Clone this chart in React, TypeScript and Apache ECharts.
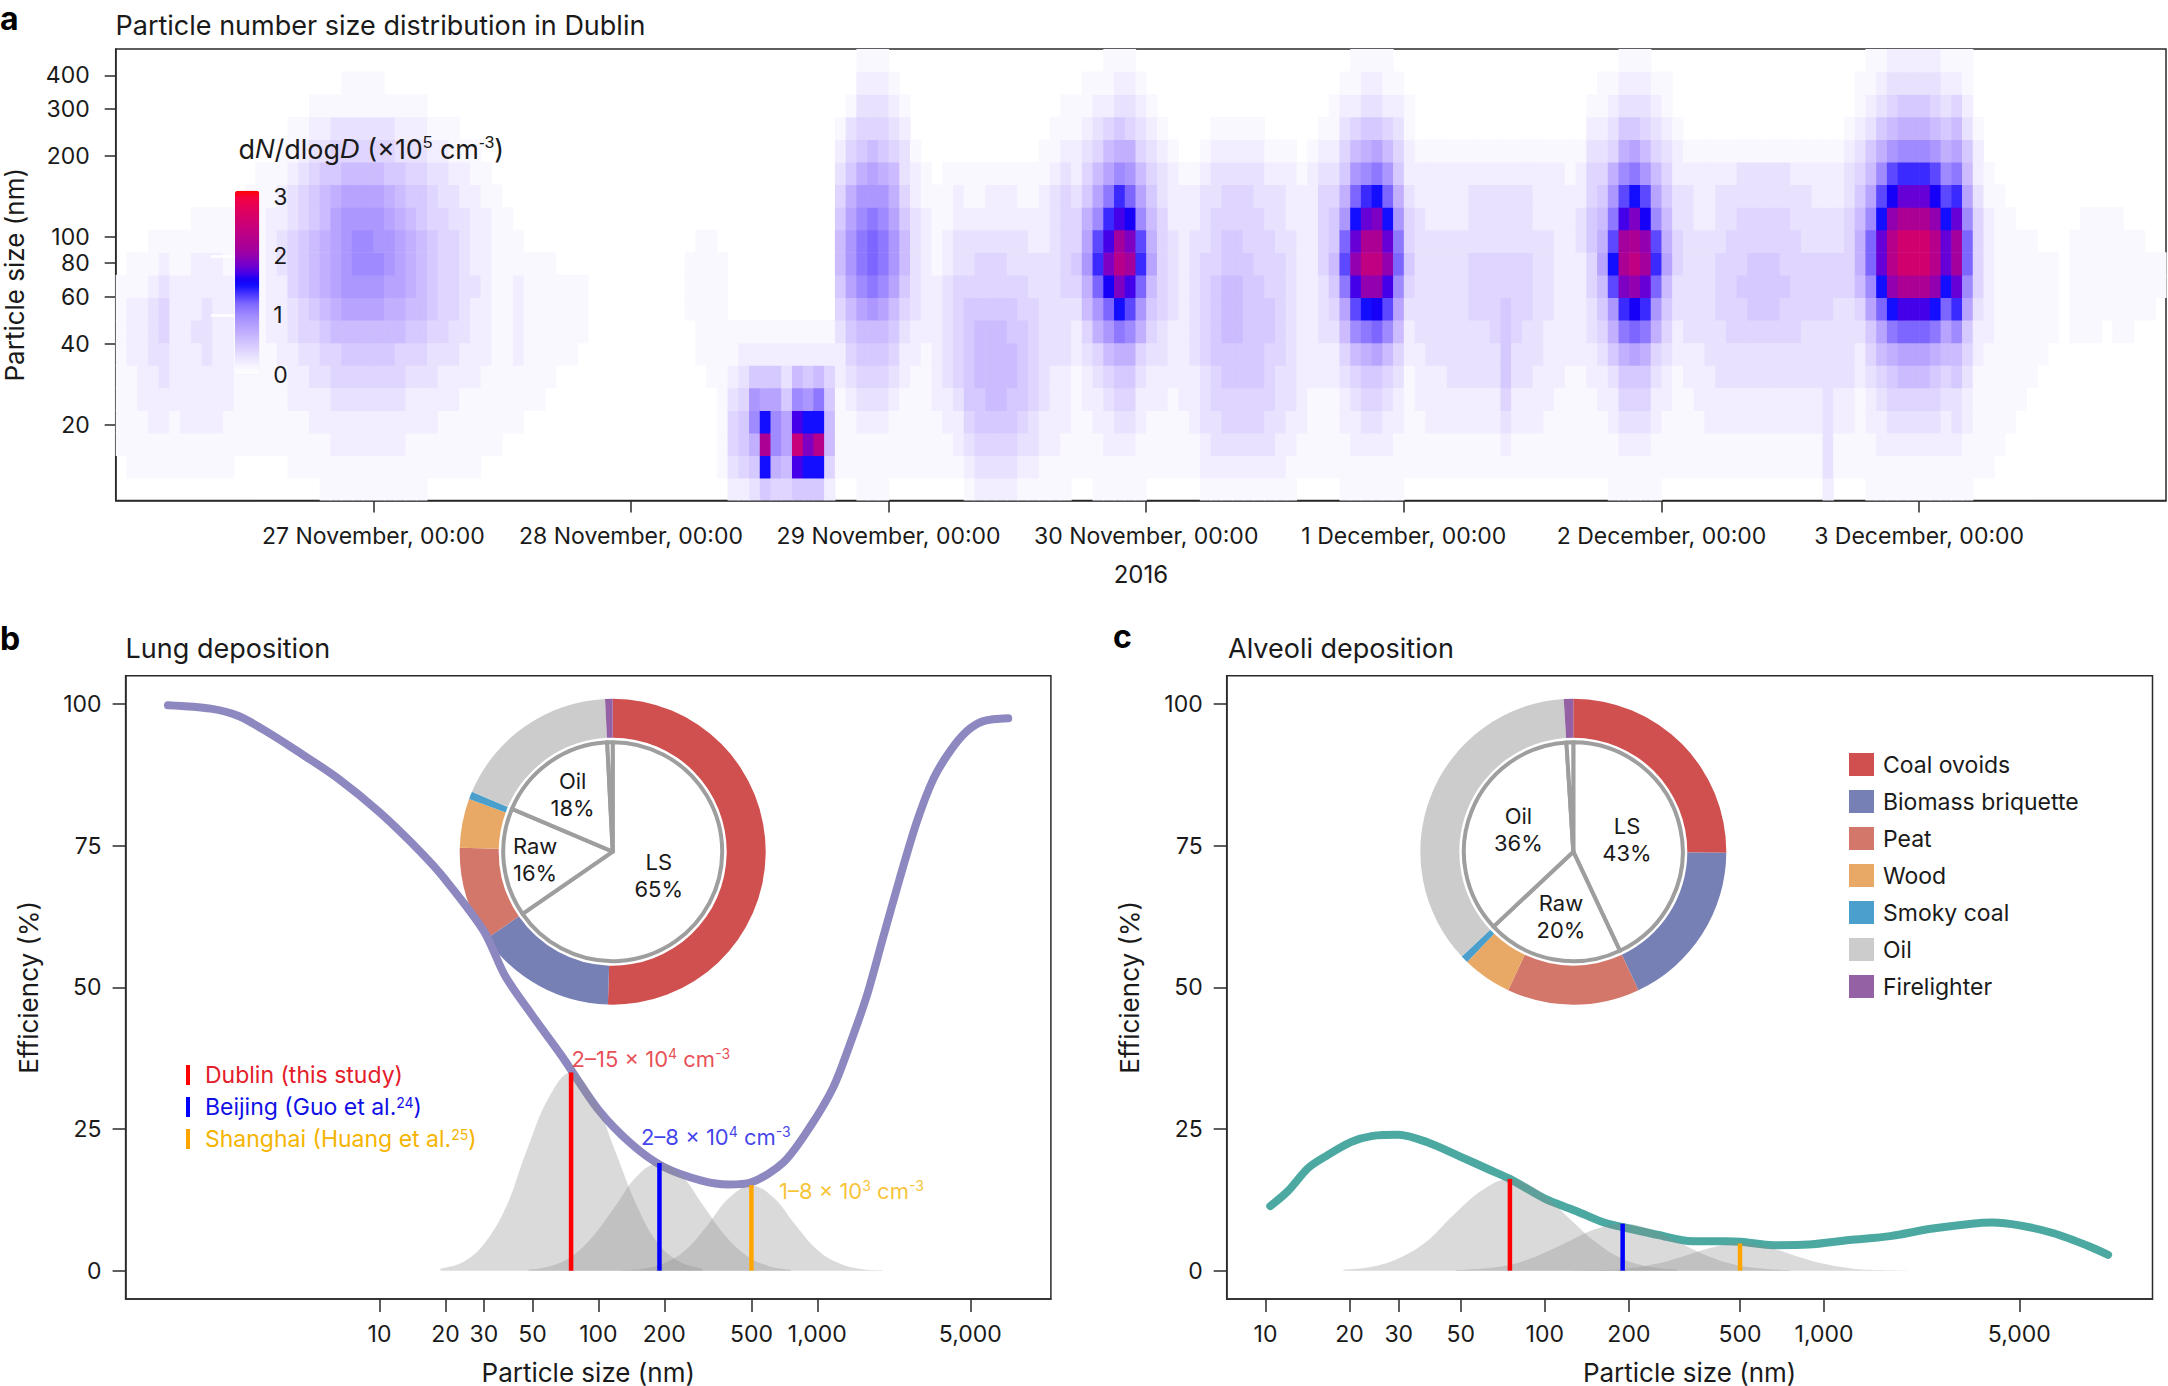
import React, { useEffect, useRef } from "react";
import * as echarts from "echarts";

const FONT = "Inter, 'Noto Sans', 'DejaVu Sans', sans-serif";
const INK = "#1a1a1a";
const AXIS = "#2a2a2a";

// ---------------- Panel a: particle number size distribution ----------------
const DAY_TICK_HOURS = [24, 48, 72, 96, 120, 144, 168];
const DAY_LABELS = [
  "27 November, 00:00",
  "28 November, 00:00",
  "29 November, 00:00",
  "30 November, 00:00",
  "1 December, 00:00",
  "2 December, 00:00",
  "3 December, 00:00",
];
const SIZE_TICKS = [20, 40, 60, 80, 100, 200, 300, 400];
const CBAR_TICKS = [0, 1, 2, 3];
const CBAR_LINES = [1, 2, 3];
const HOUR_MAX = 191;
const LOGD_MIN = 1.02;
const LOGD_MAX = 2.7;
const N_BINS = 20;
const DNDLOGD_MAX = 3.1;

// One string per hour; each char = dN/dlogD (x1e5 cm-3) * 10 in base 36, size bins from small (left) to large (right)
const NOV26 = [
  "00111 11111 00000 00000", "01111 12221 10000 00000", "01112 22221 10000 00000", "01122 23332 11000 00000",
  "01122 33443 21000 00000", "01112 22222 11000 00000", "01122 22222 11000 00000", "01122 22322 21100 00000",
  "01122 23332 21100 00000", "01122 22222 21100 00000", "01112 22222 11100 00000", "00111 11111 11100 00000",
  "00111 11111 11110 00000", "00111 11111 11111 00000", "00111 11222 22211 00000", "00111 12222 33221 10000",
  "01112 22334 44332 11000", "01112 23445 55443 21000", "01122 33456 66554 32100", "11122 34567 77665 32100",
  "11223 44678 88875 43100", "11223 45689 99986 43110", "11223 45689 aa986 43110", "11223 45689 aa986 43110",
];
const NOV27 = [
  "11223 45689 a9986 43110", "11223 45678 99875 43100", "11223 44678 88765 32100", "11122 34567 77654 32100",
  "11122 34566 66554 32100", "01122 33455 55443 21000", "01112 23444 44433 21000", "01112 23344 44332 11000",
  "01111 22333 33322 10000", "01111 22223 22221 10000", "00111 12222 22211 00000", "00111 11111 11110 00000",
  "00011 11111 11100 00000", "00011 12222 11000 00000", "00001 11111 10000 00000", "00001 11111 10000 00000",
  "00000 11111 10000 00000", "00000 01111 00000 00000", "00000 01111 00000 00000", "00000 00111 00000 00000",
  "00000 00000 00000 00000", "00000 00000 00000 00000", "00000 00000 00000 00000", "00000 00000 00000 00000",
];
const NOV28 = [
  "00000 00000 00000 00000", "00000 00000 00000 00000", "00000 00000 00000 00000", "00000 00000 00000 00000",
  "00000 00000 00000 00000", "00000 00011 10000 00000", "00000 01111 11000 00000", "00000 11111 11000 00000",
  "01111 11111 10000 00000", "23443 21100 00000 00000", "24554 32100 00000 00000", "357a9 52100 00000 00000",
  "5fmf8 52100 00000 00000", "47aa8 52100 00000 00000", "46885 32100 00000 00000", "5hpha 62100 00000 00000",
  "5fjf9 52100 00000 00000", "5fnfb 62100 00000 00000", "24665 42100 00000 00000", "01111 22345 66543 21000",
  "01112 34568 99875 43100", "11123 4568a bba97 54321", "11123 4569b ccb98 64321", "11123 4568a bba97 54321",
];
const NOV29 = [
  "01112 34568 99876 43210", "01111 22345 66543 32100", "01111 12233 33322 10000", "01111 11222 22211 00000",
  "01112 22222 11110 00000", "01122 33333 22111 00000", "01223 44444 33221 00000", "12345 55554 33211 00000",
  "23455 66654 43211 00000", "23456 66654 43221 00000", "23456 66654 43221 00000", "23455 66554 33221 00000",
  "12345 55544 33211 00000", "12334 44443 32211 00000", "11223 33333 32221 10000", "11222 23333 33332 11000",
  "11122 23334 44443 21100", "01111 12234 54432 21100", "01112 23467 98754 32110", "11122 3479c eda86 43210",
  "11223 469cg jheb8 64211", "11234 57bfj nlhea 75321", "11234 57adh ljgc9 74321", "11122 3479c eda86 43210",
];
const NOV30 = [
  "01112 23456 87654 32100", "01112 23344 44433 21000", "01111 22233 33222 10000", "01112 22222 22221 00000",
  "01122 23333 33221 00000", "12233 34444 43332 10000", "12334 45555 44433 21000", "12344 55666 55443 21000",
  "12344 55666 55443 21000", "12344 55555 54443 21000", "12344 55555 44433 21000", "12334 44554 44332 10000",
  "12233 34444 43332 10000", "11223 33333 33222 10000", "01122 22222 22221 00000", "01111 22222 22222 10000",
  "01111 22333 44443 21000", "01111 22345 65543 21100", "11122 3468b dc975 43210", "11223 46adh kifc9 64211",
  "11234 57bfk omiea 75321", "11234 58cgk omjfb 85321", "11223 46adh kifc9 64211", "11122 3468a cb975 43210",
];
const DEC01 = [
  "01111 12234 54432 21100", "01112 22333 33322 10000", "01122 23333 33222 10000", "01122 23333 33222 10000",
  "01122 33333 33222 10000", "01122 33333 33222 10000", "01122 33344 43332 10000", "01122 33344 43332 10000",
  "01122 33444 43332 10000", "01234 55554 43332 10000", "01122 33444 43332 10000", "01122 33344 43332 10000",
  "01122 23333 33222 10000", "01112 22233 33222 10000", "01111 22222 22222 10000", "01111 12222 22221 10000",
  "01111 12222 23322 10000", "01111 22334 45544 32100", "01112 23456 87654 32110", "11122 3579d fdb97 43210",
  "11234 57bej mlhda 75321", "11234 58cgk omjfb 85321", "11234 57bei lkgd9 64321", "11122 3479c eda86 43210",
];
const DEC02 = [
  "01112 23456 87654 32110", "01111 12233 44332 21000", "01111 22333 33332 10000", "01112 22333 33222 10000",
  "01122 23333 33222 10000", "01122 33344 43332 10000", "01122 33444 44332 10000", "01122 33445 44433 10000",
  "01122 33455 54433 10000", "01122 33455 54433 10000", "01122 33455 54433 10000", "01122 33445 44433 10000",
  "01122 33444 44332 10000", "01122 33344 43332 10000", "01122 33344 43322 10000", "23333 33344 43322 10000",
  "01122 33334 43322 10000", "01122 33334 44433 21000", "01111 22346 77654 32110", "11122 3458a cca86 53211",
  "11223 468cf iifda 75321", "11234 57bfk nnkgd 96432", "11234 68chm qqmie a7532", "11234 68chm qqmie a7532",
];
const DEC03 = [
  "11234 68chm qqmie a7532", "11234 57bfk nnkgd 96432", "11223 468cf iifda 75321", "11233 56aei llieb 86421",
  "11122 3458a cca86 53211", "01111 12234 44432 21000", "01111 11222 22211 00000", "00111 11111 11110 00000",
  "00011 11111 11100 00000", "00001 11111 11000 00000", "00000 11111 11000 00000", "00000 01111 10000 00000",
  "00000 00111 10000 00000", "00000 00000 00000 00000", "00000 00111 11000 00000", "00000 00111 11100 00000",
  "00000 00111 11100 00000", "00000 00011 11100 00000", "00000 00111 11100 00000", "00000 00111 11000 00000",
  "00000 00011 11000 00000", "00000 00011 10000 00000", "00000 00001 10000 00000",
];

const CMAP_STOPS: [number, string][] = [
  [0, "#ffffff"], [0.1, "#faf8ff"], [0.2, "#f2eeff"], [0.5, "#d6c9ff"], [0.8, "#b8a3ff"], [1.0, "#a08aff"],
  [1.2, "#7d66ff"], [1.4, "#3a2aff"], [1.55, "#0000ff"], [1.75, "#5a00e0"], [1.95, "#8a00b8"],
  [2.1, "#a3009e"], [2.5, "#c8007a"], [2.9, "#eb0050"], [3.0, "#f50038"], [3.1, "#ff0000"],
];

// ---------------- Panels b and c ----------------
const DIAM_TICKS = [10, 20, 30, 50, 100, 200, 500, 1000, 5000];
const EFF_TICKS = [0, 25, 50, 75, 100];

const LUNG_NM = [1.08, 1.69, 2.27, 3.16, 4.1, 6.4, 10, 15.4, 20, 30, 37.5, 50, 67.7, 100, 142, 197, 296, 393, 500, 700, 927, 1183, 1410, 1682, 2000, 2386, 2846, 3390, 4040, 4815, 5735, 7450];
const LUNG_EFF = [99.8, 99.2, 97.9, 94.8, 92, 87, 80.9, 73.9, 69, 59.9, 52, 45, 38, 28.4, 22.3, 18.4, 15.9, 15.2, 15.6, 19.1, 25.4, 32.4, 40, 48.5, 58.9, 69.4, 79.2, 86.8, 91.7, 95.2, 97, 97.5];

const ALV_NM = [10.4, 12, 14.2, 16.3, 20.2, 24.2, 30, 37.8, 50, 62.8, 75, 100, 130, 163, 202, 255, 338, 448, 504, 661, 878, 1230, 1723, 2413, 3380, 4000, 5010, 6640, 8790, 10400];
const ALV_EFF = [11.4, 14, 18.1, 20.1, 22.7, 23.8, 24, 22.7, 20.1, 17.9, 16.2, 12.7, 10.5, 8.5, 7.4, 6.3, 5.2, 5.2, 5.1, 4.5, 4.6, 5.4, 6.1, 7.4, 8.3, 8.5, 8.0, 6.6, 4.4, 2.8];

// size distributions (grey), sampled in nm
const DUBLIN_NM = [19, 24, 30, 38, 47, 60, 75, 94, 119, 150, 188, 237, 299];
const BEIJING_NM = [48, 60, 76, 95, 120, 151, 190, 239, 301, 379, 477, 601, 756];
const SHANGHAI_NM = [126, 158, 199, 251, 316, 397, 500, 630, 793, 998, 1256, 1581, 1991];
const LUNG_DUBLIN = [0.4, 1.5, 4.7, 11.4, 21.2, 30.9, 35, 30.9, 21.2, 11.4, 4.7, 1.5, 0.4];
const LUNG_BEIJING = [0.2, 0.8, 2.6, 6.2, 11.5, 16.8, 19, 16.8, 11.5, 6.2, 2.6, 0.8, 0.2];
const LUNG_SHANGHAI = [0.06, 0.3, 1.3, 3.7, 8.1, 12.9, 15, 12.9, 8.1, 3.7, 1.3, 0.3, 0.06];
const ALV_DUBLIN = [0.18, 0.7, 2.2, 5.3, 9.8, 14.3, 16.2, 14.3, 9.8, 5.3, 2.2, 0.7, 0.18];
const ALV_BEIJING = [0.09, 0.37, 1.1, 2.7, 5.0, 7.3, 8.3, 7.3, 5.0, 2.7, 1.1, 0.37, 0.09];
const ALV_SHANGHAI = [0.02, 0.1, 0.4, 1.2, 2.6, 4.1, 4.8, 4.1, 2.6, 1.2, 0.4, 0.1, 0.02];

const CITIES = ["Dublin (this study)", "Beijing (Guo et al.24)", "Shanghai (Huang et al.25)"];
const CITY_LEGEND = ["Dublin (this study)", "Beijing (Guo et al.{s|24})", "Shanghai (Huang et al.{s|25})"];
const CITY_MODE_NM = [75, 190, 500];
const LUNG_PEAKS = [35, 19, 15.1];
const ALV_PEAKS = [16.2, 8.3, 4.8];
const CITY_LINE_COLORS = ["#ff0000", "#0000ff", "#ffa500"];
const CITY_TEXT_COLORS = ["#e3202a", "#1010e6", "#f5b400"];
const CONC_TEXT = ["2–15 × 10{s|4} cm{s|-3}", "2–8 × 10{s|4} cm{s|-3}", "1–8 × 10{s|3} cm{s|-3}"];
const CONC_OFFSETS = [[-5, -13], [-24, -26], [22, 6]];

const SOURCES = ["Coal ovoids", "Biomass briquette", "Peat", "Wood", "Smoky coal", "Oil", "Firelighter"];
const SOURCE_COLORS = ["#d04f4f", "#7680b4", "#d3776a", "#e9a966", "#4a9fcc", "#cccccc", "#9561a5"];
const LUNG_SOURCES = [50.5, 14.9, 10, 5.2, 0.8, 17.8, 0.8];
const ALV_SOURCES = [25.1, 17.9, 14, 5.2, 0.8, 36, 1.0];
const GROUPS = ["LS", "Raw", "Oil", "Firelighter"];
const LUNG_GROUPS = [65.4, 16, 17.8, 0.8];
const ALV_GROUPS = [43, 20, 36, 1];
// radial distance of the inner pie labels (style)
const LUNG_LABEL_R = [52, 78, 70];
const ALV_LABEL_R = [55, 66, 59];

const PIE_B_CENTER = [612.7, 851.7];
const PIE_C_CENTER = [1573.3, 851.7];

// ---------------- helpers ----------------
function hexRgb(h: string) {
  const n = parseInt(h.slice(1), 16);
  return [(n >> 16) & 255, (n >> 8) & 255, n & 255];
}
function buildRamp(count: number, step: number) {
  const out: string[] = [];
  for (let i = 0; i < count; i++) {
    const v = i * step;
    let k = 0;
    while (k < CMAP_STOPS.length - 2 && v > CMAP_STOPS[k + 1][0]) k++;
    const [v0, c0] = CMAP_STOPS[k];
    const [v1, c1] = CMAP_STOPS[k + 1];
    const f = Math.max(0, Math.min(1, (v - v0) / (v1 - v0)));
    const a = hexRgb(c0), b = hexRgb(c1);
    const c = a.map((x, j) => Math.round(x + (b[j] - x) * f));
    out.push(`rgb(${c[0]},${c[1]},${c[2]})`);
  }
  return out;
}

const BIN_STEP = (LOGD_MAX - LOGD_MIN) / N_BINS;
const DAYS = [NOV26, NOV27, NOV28, NOV29, NOV30, DEC01, DEC02, DEC03];
const CELLS: number[][] = [];
DAYS.forEach((day, d) =>
  day.forEach((col, h) => {
    const s = col.replace(/\s/g, "");
    for (let b = 0; b < Math.min(N_BINS, s.length); b++) {
      const v = parseInt(s[b], 36) / 10;
      if (v > 0) CELLS.push([d * 24 + h, LOGD_MIN + b * BIN_STEP, v]);
    }
  })
);

const lg = (v: number) => Math.log10(v);

function axis(o: any) {
  return {
    type: "value",
    gridIndex: o.grid,
    min: o.min,
    max: o.max,
    position: o.position,
    name: o.name,
    nameLocation: "middle",
    nameGap: o.nameGap,
    nameTextStyle: { color: INK, fontSize: o.nameSize ?? 26, fontFamily: FONT },
    axisLine: { show: true, onZero: false, lineStyle: { color: AXIS, width: 1.5 } },
    axisTick: { show: true, length: o.tickLen, customValues: o.ticks, lineStyle: { color: AXIS, width: 1.5 } },
    axisLabel: { show: true, customValues: o.ticks, formatter: o.fmt, margin: o.margin, color: INK, fontSize: 23, fontFamily: FONT },
    splitLine: { show: false },
  };
}

function ring(center: number[], values: number[]) {
  return {
    type: "pie",
    center,
    radius: [114, 153],
    startAngle: 90,
    clockwise: true,
    silent: true,
    avoidLabelOverlap: false,
    label: { show: false },
    labelLine: { show: false },
    emphasis: { disabled: true },
    z: 1,
    data: SOURCES.map((n, i) => ({ name: n, value: values[i], itemStyle: { color: SOURCE_COLORS[i] } })),
  };
}
function innerPie(center: number[], values: number[]) {
  return {
    type: "pie",
    center,
    radius: [0, 109.5],
    startAngle: 90,
    clockwise: true,
    silent: true,
    avoidLabelOverlap: false,
    emphasis: { disabled: true },
    labelLine: { show: false },
    label: { show: false },
    z: 1,
    itemStyle: { color: "#ffffff", borderColor: "#9e9e9e", borderWidth: 4 },
    data: GROUPS.map((g, i) => ({ name: "group " + g, value: values[i] })),
  };
}
// labels of the inner pie, placed at each slice's middle angle (from the data)
function innerLabels(center: number[], values: number[], radii: number[]) {
  const total = values.reduce((a, b) => a + b, 0);
  let cum = 0;
  const els: any[] = [];
  values.forEach((v, i) => {
    const mid = ((cum + v / 2) / total) * 2 * Math.PI;
    cum += v;
    if (i >= radii.length) return;
    const r = radii[i];
    els.push({
      type: "text",
      z: 100,
      x: center[0] + r * Math.sin(mid),
      y: center[1] - r * Math.cos(mid),
      style: {
        text: `${GROUPS[i]}\n${Math.round(v)}%`,
        fontSize: 22,
        lineHeight: 27,
        fontFamily: FONT,
        fill: INK,
        align: "center",
        verticalAlign: "middle",
      },
    });
  });
  return els;
}
function effLine(name: string, nm: number[], eff: number[], idx: number, color: string) {
  return {
    type: "line",
    name,
    xAxisIndex: idx,
    yAxisIndex: idx,
    data: nm.map((d, i) => [lg(d), eff[i]]),
    smooth: 0.3,
    symbol: "none",
    silent: true,
    z: 3,
    lineStyle: { color, width: 8, cap: "round" },
  };
}
function dist(nm: number[], vals: number[], idx: number) {
  return {
    type: "line",
    xAxisIndex: idx,
    yAxisIndex: idx,
    data: nm.map((d, i) => [lg(d), vals[i]]),
    smooth: 0.4,
    symbol: "none",
    silent: true,
    z: 4,
    lineStyle: { width: 0, opacity: 0 },
    areaStyle: { color: "rgba(140,140,140,0.32)", opacity: 1 },
  };
}
function modeLines(peaks: number[], idx: number) {
  return CITIES.map((c, i) => ({
    type: "line",
    name: c,
    xAxisIndex: idx,
    yAxisIndex: idx,
    color: CITY_LINE_COLORS[i],
    data: [[lg(CITY_MODE_NM[i]), 0], [lg(CITY_MODE_NM[i]), peaks[i]]],
    symbol: "none",
    silent: true,
    z: 5,
    lineStyle: { color: CITY_LINE_COLORS[i], width: 4.5 },
  }));
}

function buildOption() {
  const ramp = buildRamp(32, 0.1);
  const supRich = { s: { fontSize: 14, lineHeight: 14, verticalAlign: "top" } };
  const letter = (t: string, x: number, y: number) => ({
    type: "text", z: 100, x, y,
    style: { text: t, fontSize: 32, fontWeight: "bold", fontFamily: FONT, fill: "#000", verticalAlign: "middle" },
  });
  const title = (t: string, x: number, y: number) => ({
    type: "text", z: 100, x, y,
    style: { text: t, fontSize: 27, fontFamily: FONT, fill: INK, verticalAlign: "middle" },
  });
  return {
    animation: false,
    backgroundColor: "#ffffff",
    textStyle: { fontFamily: FONT },
    grid: [
      { left: 115.7, top: 49, width: 2050.3, height: 451.6, show: true, borderColor: AXIS, borderWidth: 1.5, backgroundColor: "transparent", outerBoundsMode: "none", containLabel: false },
      { left: 125.6, top: 675.8, width: 925.3, height: 623.2, show: true, borderColor: AXIS, borderWidth: 1.5, backgroundColor: "transparent", outerBoundsMode: "none", containLabel: false },
      { left: 1226.7, top: 675.8, width: 925.8, height: 623.2, show: true, borderColor: AXIS, borderWidth: 1.5, backgroundColor: "transparent", outerBoundsMode: "none", containLabel: false },
      { left: 235, top: 190.7, width: 24.3, height: 183.8, show: false, outerBoundsMode: "none", containLabel: false },
    ],
    xAxis: [
      axis({ grid: 0, min: 0, max: HOUR_MAX, ticks: DAY_TICK_HOURS, tickLen: 12, margin: 24, fmt: (v: number) => DAY_LABELS[Math.round(v / 24) - 1] ?? "", name: "2016", nameGap: 62, nameSize: 24 }),
      axis({ grid: 1, min: -0.16, max: 4.067, ticks: DIAM_TICKS.map(lg), tickLen: 13, margin: 23, fmt: (v: number) => Math.round(Math.pow(10, v)).toLocaleString("en-US"), name: "Particle size (nm)", nameGap: 60 }),
      axis({ grid: 2, min: 0.861, max: 4.176, ticks: DIAM_TICKS.map(lg), tickLen: 13, margin: 23, fmt: (v: number) => Math.round(Math.pow(10, v)).toLocaleString("en-US"), name: "Particle size (nm)", nameGap: 60 }),
      { type: "value", gridIndex: 3, min: 0, max: 1, show: false },
    ],
    yAxis: [
      axis({ grid: 0, min: LOGD_MIN, max: LOGD_MAX, ticks: SIZE_TICKS.map(lg), tickLen: 11, margin: 26, fmt: (v: number) => String(Math.round(Math.pow(10, v))), name: "Particle size (nm)", nameGap: 88 }),
      axis({ grid: 1, min: -5, max: 105, ticks: EFF_TICKS, tickLen: 13, margin: 24, fmt: (v: number) => String(Math.round(v)), name: "Efficiency (%)", nameGap: 84 }),
      axis({ grid: 2, min: -5, max: 105, ticks: EFF_TICKS, tickLen: 13, margin: 24, fmt: (v: number) => String(Math.round(v)), name: "Efficiency (%)", nameGap: 84 }),
      {
        type: "value",
        gridIndex: 3,
        min: 0,
        max: DNDLOGD_MAX,
        position: "right",
        z: 10,
        axisLine: { show: false },
        axisTick: { show: true, inside: true, length: 24.3, customValues: CBAR_LINES, lineStyle: { color: "#ffffff", width: 2.5 } },
        axisLabel: { show: true, customValues: CBAR_TICKS, margin: 14, color: INK, fontSize: 23, fontFamily: FONT },
        splitLine: { show: false },
      },
    ],
    visualMap: {
      type: "continuous",
      seriesIndex: 0,
      dimension: 2,
      min: 0,
      max: DNDLOGD_MAX,
      inRange: { color: ramp },
      orient: "vertical",
      left: 235,
      top: 190.7,
      itemWidth: 24.3,
      itemHeight: 183.8,
      padding: 0,
      calculable: false,
      hoverLink: false,
      show: true,
      z: 4,
    },
    legend: [
      {
        data: CITIES.map((n, i) => ({ name: n, textStyle: { color: CITY_TEXT_COLORS[i] } })),
        formatter: (name: string) => CITY_LEGEND[CITIES.indexOf(name)],
        orient: "vertical",
        left: 186,
        top: 1063,
        icon: "rect",
        itemWidth: 4,
        itemHeight: 20,
        itemGap: 8,
        padding: 0,
        selectedMode: false,
        itemStyle: { borderWidth: 0 },
        textStyle: { fontSize: 23, lineHeight: 24, fontFamily: FONT, padding: [0, 0, 0, 10], rich: supRich },
      },
      {
        data: SOURCES,
        orient: "vertical",
        left: 1849,
        top: 753,
        icon: "rect",
        itemWidth: 25,
        itemHeight: 23,
        itemGap: 14,
        padding: 0,
        selectedMode: false,
        itemStyle: { borderWidth: 0 },
        textStyle: { fontSize: 23, lineHeight: 23, color: INK, fontFamily: FONT, padding: [0, 0, 0, 4] },
      },
    ],
    graphic: {
      elements: [
        letter("a", 0, 18),
        letter("b", 0, 638),
        letter("c", 1113, 636),
        title("Particle number size distribution in Dublin", 115.5, 25.5),
        title("Lung deposition", 125.6, 648.4),
        title("Alveoli deposition", 1228, 648.4),
        {
          type: "text",
          z: 100,
          x: 238.5,
          y: 149,
          style: {
            text: "d{i|N}/dlog{i|D} (×10{s|5} cm{s|-3})",
            fontSize: 27,
            lineHeight: 30,
            fontFamily: FONT,
            fill: INK,
            verticalAlign: "middle",
            rich: { i: { fontStyle: "italic", fontSize: 27, lineHeight: 30 }, s: { fontSize: 17, lineHeight: 17, verticalAlign: "top" } },
          },
        },
        ...innerLabels(PIE_B_CENTER, LUNG_GROUPS, LUNG_LABEL_R),
        ...innerLabels(PIE_C_CENTER, ALV_GROUPS, ALV_LABEL_R),
      ],
    },
    series: [
      {
        type: "custom",
        name: "dN/dlogD",
        xAxisIndex: 0,
        yAxisIndex: 0,
        data: CELLS,
        encode: { x: 0, y: 1 },
        clip: true,
        silent: true,
        renderItem: (params: any, api: any) => {
          const t = api.value(0);
          const y = api.value(1);
          const p0 = api.coord([t, y + BIN_STEP]);
          const p1 = api.coord([t + 1, y]);
          return {
            type: "rect",
            shape: { x: p0[0], y: p0[1], width: p1[0] - p0[0] + 0.6, height: p1[1] - p0[1] + 0.6 },
            style: { fill: api.visual("color") },
          };
        },
      },
      ring(PIE_B_CENTER, LUNG_SOURCES),
      innerPie(PIE_B_CENTER, LUNG_GROUPS),
      ring(PIE_C_CENTER, ALV_SOURCES),
      innerPie(PIE_C_CENTER, ALV_GROUPS),
      effLine("Lung deposition efficiency", LUNG_NM, LUNG_EFF, 1, "#8d88bf"),
      dist(DUBLIN_NM, LUNG_DUBLIN, 1),
      dist(BEIJING_NM, LUNG_BEIJING, 1),
      dist(SHANGHAI_NM, LUNG_SHANGHAI, 1),
      ...modeLines(LUNG_PEAKS, 1),
      {
        type: "scatter",
        name: "concentration ranges",
        xAxisIndex: 1,
        yAxisIndex: 1,
        symbolSize: 1,
        silent: true,
        z: 6,
        itemStyle: { color: "rgba(0,0,0,0)" },
        data: CITY_MODE_NM.map((d, i) => ({
          value: [lg(d), LUNG_PEAKS[i]],
          label: {
            show: true,
            position: "right",
            offset: CONC_OFFSETS[i],
            formatter: CONC_TEXT[i],
            color: CITY_TEXT_COLORS[i],
            fontSize: 22,
            lineHeight: 26,
            fontFamily: FONT,
            rich: supRich,
          },
        })),
      },
      effLine("Alveoli deposition efficiency", ALV_NM, ALV_EFF, 2, "#4ba9a1"),
      dist(DUBLIN_NM, ALV_DUBLIN, 2),
      dist(BEIJING_NM, ALV_BEIJING, 2),
      dist(SHANGHAI_NM, ALV_SHANGHAI, 2),
      ...modeLines(ALV_PEAKS, 2),
    ],
  };
}

export default function App() {
  const ref = useRef<HTMLDivElement>(null);
  useEffect(() => {
    document.body.style.margin = "0";
    document.body.style.overflow = "hidden";
    const chart = echarts.init(ref.current as HTMLDivElement, null, { renderer: "svg" });
    chart.setOption(buildOption() as any);
    return () => chart.dispose();
  }, []);
  return <div ref={ref} style={{ width: 2168, height: 1386 }} />;
}
